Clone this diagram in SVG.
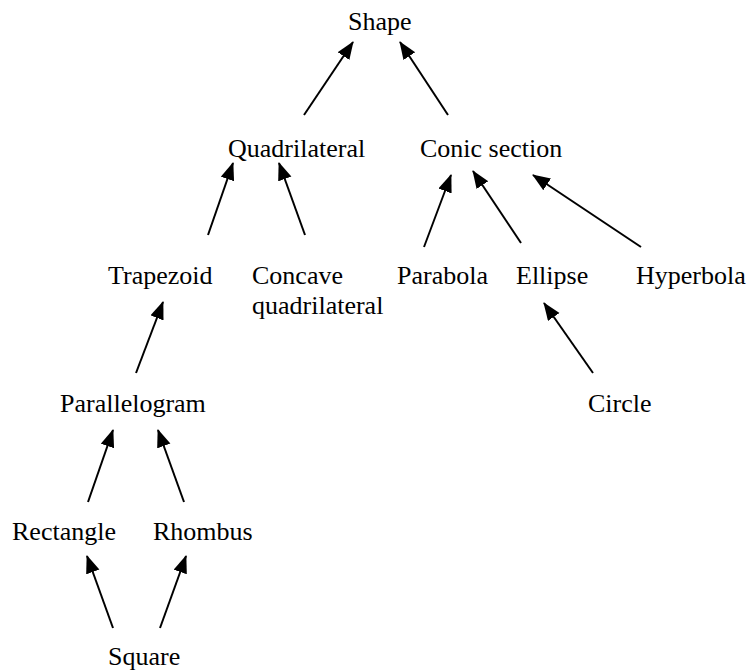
<svg xmlns="http://www.w3.org/2000/svg" width="751" height="671" viewBox="0 0 751 671">
<style>
text{font-family:"Liberation Serif","Times New Roman",serif;font-size:26px;fill:#000}
.c line{stroke:#000;stroke-width:2;marker-end:url(#ah)}
</style>
<defs>
<marker id="ah" markerUnits="userSpaceOnUse" markerWidth="20" markerHeight="16" refX="17" refY="7" orient="auto">
<path d="M0,0 L18,7 L0,14 z" fill="#000"/>
</marker>
</defs>
<rect width="751" height="671" fill="#fff"/>
<g class="c" id="connectors">
<line x1="304" y1="115" x2="353" y2="42"/>
<line x1="448" y1="115" x2="400" y2="42"/>
<line x1="208" y1="235" x2="233" y2="163"/>
<line x1="305" y1="235" x2="279" y2="163"/>
<line x1="424" y1="247" x2="451" y2="175"/>
<line x1="521" y1="243" x2="473" y2="171"/>
<line x1="641" y1="247" x2="533" y2="175"/>
<line x1="136" y1="373" x2="163" y2="302"/>
<line x1="593" y1="373" x2="544" y2="303"/>
<line x1="88" y1="502" x2="113" y2="430"/>
<line x1="184" y1="502" x2="158" y2="430"/>
<line x1="113" y1="628" x2="87" y2="556"/>
<line x1="160" y1="628" x2="186" y2="556"/>
</g>
<g id="shape"><text x="348" y="30">Shape</text></g>
<g id="quadrilateral"><text x="228" y="157">Quadrilateral</text></g>
<g id="conic"><text x="420" y="157">Conic section</text></g>
<g id="trapezoid"><text x="108" y="284">Trapezoid</text></g>
<g id="concave"><text x="252" y="284">Concave</text><text x="252" y="314">quadrilateral</text></g>
<g id="parabola"><text x="397" y="284">Parabola</text></g>
<g id="ellipse"><text x="516" y="284">Ellipse</text></g>
<g id="hyperbola"><text x="636" y="284">Hyperbola</text></g>
<g id="parallelogram"><text x="60" y="412">Parallelogram</text></g>
<g id="circle"><text x="588" y="412">Circle</text></g>
<g id="rectangle"><text x="12" y="540">Rectangle</text></g>
<g id="rhombus"><text x="153" y="540">Rhombus</text></g>
<g id="square"><text x="108" y="665">Square</text></g>
</svg>
